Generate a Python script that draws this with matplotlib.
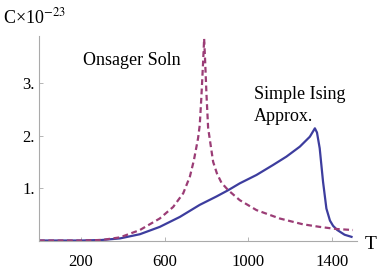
import numpy as np
import matplotlib
matplotlib.use("Agg")
import matplotlib.pyplot as plt

plt.rcParams["font.family"] = ["Liberation Serif", "DejaVu Serif"]
plt.rcParams["mathtext.fontset"] = "stix"

# Simple Ising approximation (solid)
T_ising = [0, 100, 200, 300, 387, 482, 577, 673, 768, 848, 904, 959, 1039,
           1118, 1182, 1246, 1294, 1318, 1328, 1341, 1357, 1373, 1390, 1405,
           1425, 1460, 1493]
C_ising = [0, 0, 0, 0.01, 0.04, 0.12, 0.26, 0.45, 0.68, 0.84, 0.96, 1.09,
           1.25, 1.44, 1.6, 1.79, 1.98, 2.14, 2.06, 1.76, 1.12, 0.61, 0.38,
           0.28, 0.2, 0.11, 0.07]

# Onsager solution (dashed)
T_ons = [0, 100, 200, 300, 387, 482, 577, 641, 689, 721, 740, 760, 768, 776,
         784, 789, 794, 800, 808, 816, 832, 850, 872, 904, 959, 1039, 1150,
         1260, 1341, 1420, 1500]
C_ons = [0, 0, 0, 0.01, 0.06, 0.2, 0.42, 0.64, 0.9, 1.22, 1.53, 1.95, 2.2,
         2.75, 3.4, 3.85, 3.4, 2.8, 2.15, 1.93, 1.5, 1.28, 1.1, 0.96, 0.77,
         0.58, 0.42, 0.31, 0.26, 0.22, 0.2]

x_ticks = [200, 600, 1000, 1400]
y_ticks = [1, 2, 3]
y_labels = ["1.", "2.", "3."]

fig = plt.figure(figsize=(3.82, 2.73), dpi=100)
ax = fig.add_axes([0.102, 0.119, 0.833, 0.749])

ax.plot(T_ising, C_ising, color="#3d3d9e", lw=1.6, solid_joinstyle="round")
ax.plot(T_ons, C_ons, color="#9b3d76", lw=1.6, dashes=(2.6, 1.6))

ax.set_xlim(0, 1520)
ax.set_ylim(0, 3.9)
for s in ["top", "right"]:
    ax.spines[s].set_visible(False)
for s in ["left", "bottom"]:
    ax.spines[s].set_color("#aaaaaa")
    ax.spines[s].set_linewidth(0.8)

ax.set_xticks(x_ticks)
ax.set_yticks(y_ticks)
ax.set_yticklabels(y_labels)
ax.tick_params(direction="in", length=3, width=0.6, color="#aaaaaa",
               labelsize=12)
ax.tick_params(axis="x", pad=10)
ax.tick_params(axis="y", pad=3)

fig.text(0.008, 0.916, "C×10$^{-23}$", fontsize=13, va="baseline", ha="left")
fig.text(0.955, 0.105, "T", fontsize=14, va="center", ha="left")
ax.text(210, 3.44, "Onsager Soln", fontsize=13, va="center", ha="left")
ax.text(1027, 2.79, "Simple Ising", fontsize=13, va="center", ha="left")
ax.text(1027, 2.37, "Approx.", fontsize=13, va="center", ha="left")

fig.savefig("out.png", dpi=100)
